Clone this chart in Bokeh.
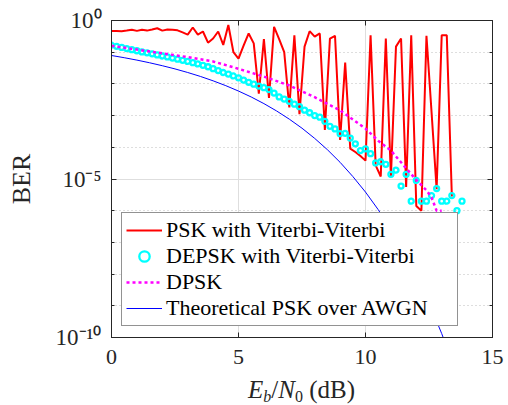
from bokeh.plotting import figure
from bokeh.layouts import column
from bokeh.models import (FixedTicker, LogAxis, LinearAxis, Legend, LegendItem,
                          CustomJSTickFormatter, Range1d, Div)
from bokeh.embed import file_html
from bokeh.resources import INLINE

# ---------------- data ----------------
STEP = 0.2  # dB spacing of the simulated points

psk_vv_ber = [0.47, 0.47, 0.46, 0.48, 0.51, 0.47, 0.51, 0.48, 0.52, 0.57,
              0.48, 0.52, 0.51, 0.49, 0.42, 0.36, 0.60, 0.36, 0.45, 0.20,
              0.27, 0.45, 0.17, 0.72, 0.10, 0.063, 0.16, 0.39, 0.19, 0.0049,
              0.26, 0.0036, 0.63, 0.26, 0.10, 0.0018, 0.34, 0.0011, 0.15, 0.46,
              0.31, 0.39, 3.5e-4, 0.27, 0.33, 1.7e-4, 0.047, 9.1e-5, 7.1e-5, 5.3e-5,
              3.8e-5, 0.34, 2.7e-5, 1.2e-5, 0.27, 1.15e-5, 0.15, 0.27, 5.6e-6, 0.34,
              1.4e-6, 1.0e-6, 0.33, 1.3e-3, 4.8e-6, 0.34, 0.34, 2.8e-6]
psk_vv_ebn0 = [round(STEP * i, 1) for i in range(len(psk_vv_ber))]

depsk_ber = [0.166, 0.153, 0.141, 0.130, 0.120, 0.111, 0.102, 0.0955, 0.0891, 0.0822,
             0.0759, 0.0708, 0.0653, 0.0603, 0.0556, 0.0513, 0.0468, 0.0427, 0.0385, 0.0347,
             0.0302, 0.0263, 0.0229, 0.0204, 0.0178, 0.0155, 0.0132, 0.0112, 0.00977, 0.00851,
             0.00759, 0.00661, 0.00513, 0.00389, 0.00331, 0.00282, 0.00229, 0.00191, 0.00148, 0.00123,
             0.00100, 8.9e-4, 6.6e-4, 4.6e-4, 3.8e-4, 2.7e-4, 2.75e-4, 1.95e-4, 1.29e-4, 7.9e-5,
             8.9e-5, 6.3e-5, 3.2e-5, 3.5e-5, 2.9e-5, 1.4e-5, 1.9e-5, 6e-6, 1.4e-5, 2e-6,
             9e-6, 2e-6, 2e-6, 3e-6, 5e-6, 2e-6, 2e-6, 3e-6, 1e-6, 2e-6]
depsk_ebn0 = [round(STEP * i, 1) for i in range(len(depsk_ber))]

dpsk_ebn0 = [0, 1, 2, 3, 4, 5, 6, 7, 8, 9, 10, 10.5, 11, 11.5, 12, 12.4, 12.6, 12.8, 13.0]
dpsk_ber = [0.159, 0.121, 0.092, 0.070, 0.051, 0.030, 0.017, 0.0089, 0.0038, 0.00146,
            3.9e-4, 1.6e-4, 7.9e-5, 2.7e-5, 9.3e-6, 4.4e-6, 2.6e-6, 1e-6, 1e-6]

theory_ebn0 = [0, 0.5, 1, 1.5, 2, 2.5, 3, 3.5, 4, 4.5, 5, 5.5, 6, 6.5,
               7, 7.5, 8, 8.5, 9, 9.5, 10, 10.5, 11, 11.5, 12, 12.5, 13, 13.5]
theory_ber = [0.0786, 0.0671, 0.0563, 0.0464, 0.0375, 0.0297, 0.0229, 0.0172, 0.0125, 0.0088,
              0.00595, 0.00387, 0.00239, 0.0014, 7.73e-4, 4.0e-4, 1.91e-4, 8.4e-5, 3.36e-5, 1.2e-5,
              3.87e-6, 1.08e-6, 2.61e-7, 5.3e-8, 9.0e-9, 1.24e-9, 1.33e-10, 1.15e-11]

series_labels = ["PSK with Viterbi-Viterbi", "DEPSK with Viterbi-Viterbi", "DPSK",
                 "Theoretical PSK over AWGN"]

x_ticks = [0, 5, 10, 15]
y_major_ticks = [1e-10, 1e-5, 1.0]
y_minor_ticks = [1e-9, 1e-8, 1e-7, 1e-6, 1e-4, 1e-3, 1e-2, 1e-1]
y_tick_labels = ["10\u207b\u00b9\u2070", "10\u207b\u2075", "10\u2070"]
y_label = "BER"
SUB = "font-size:16px;line-height:16px;position:relative;top:4px"
x_label_html = (f"<i>E</i><span style='{SUB}'><i>b</i></span>"
                f"/<i>N</i><span style='{SUB}'>0</span>"
                "&nbsp;(dB)")

# ---------------- styling ----------------
FONT = "Liberation Serif"
AX = "#262626"
W = 508
FIG_H = 375
LEFT, RIGHT, TOP, BOTTOM = 111, 16, 20, 38

p = figure(width=W, height=FIG_H, x_range=Range1d(0, 15), y_range=Range1d(1e-10, 1.0),
           y_axis_type="log", output_backend="svg", toolbar_location=None,
           min_border_left=LEFT, min_border_right=RIGHT, min_border_top=TOP,
           min_border_bottom=BOTTOM)
p.background_fill_color = "white"
p.border_fill_color = "white"
p.outline_line_color = AX
p.outline_line_width = 1

xt = FixedTicker(ticks=x_ticks, minor_ticks=[])
yt = FixedTicker(ticks=y_major_ticks, minor_ticks=y_minor_ticks)
empty = CustomJSTickFormatter(code="return ''")

xa = p.xaxis[0]
xa.ticker = xt
xa.major_tick_in = 5
xa.major_tick_out = 0
xa.minor_tick_in = 0
xa.minor_tick_out = 0
xa.axis_line_color = AX
xa.major_tick_line_color = AX
xa.major_label_text_font = FONT
xa.major_label_text_font_size = "22px"
xa.major_label_text_color = AX
xa.major_label_standoff = 12

ya = p.yaxis[0]
ya.ticker = yt
ya.major_label_overrides = {v: t for v, t in zip(y_major_ticks, y_tick_labels)}
ya.major_tick_in = 5
ya.major_tick_out = 0
ya.minor_tick_in = 3
ya.minor_tick_out = 0
ya.axis_line_color = AX
ya.major_tick_line_color = AX
ya.minor_tick_line_color = AX
ya.major_label_text_font = FONT
ya.major_label_text_font_size = "23px"
ya.major_label_text_color = AX
ya.major_label_standoff = 10
ya.axis_label = y_label
ya.axis_label_text_font = FONT
ya.axis_label_text_font_size = "26px"
ya.axis_label_text_font_style = "normal"
ya.axis_label_text_color = AX
ya.axis_label_standoff = 17

ra = LogAxis(ticker=yt, formatter=empty, major_tick_in=5, major_tick_out=0,
             minor_tick_in=3, minor_tick_out=0, axis_line_color=AX,
             major_tick_line_color=AX, minor_tick_line_color=AX,
             major_label_text_font_size="0px", major_label_standoff=0)
p.add_layout(ra, "right")
ta = LinearAxis(ticker=xt, formatter=empty, major_tick_in=5, major_tick_out=0,
                minor_tick_in=0, minor_tick_out=0, axis_line_color=AX,
                major_tick_line_color=AX, major_label_text_font_size="0px",
                major_label_standoff=0)
p.add_layout(ta, "above")

p.xgrid.ticker = xt
p.xgrid.grid_line_color = "#dedede"
p.xgrid.grid_line_width = 1
p.ygrid.ticker = yt
p.ygrid.grid_line_color = "#dedede"
p.ygrid.grid_line_width = 1
p.ygrid.minor_grid_line_color = "#bdbdbd"
p.ygrid.minor_grid_line_dash = "1 3"
p.ygrid.minor_grid_line_width = 1

# ---------------- series ----------------
r_psk = p.line(psk_vv_ebn0, psk_vv_ber, line_color="#ff0000", line_width=2)
r_depsk = p.scatter(depsk_ebn0, depsk_ber, marker="circle", size=5,
                    line_color="#00ffff", line_width=2.3, fill_alpha=0)
r_dpsk = p.line(dpsk_ebn0, dpsk_ber, line_color="#ff00ff", line_width=2.5, line_dash="3 3")
r_th = p.line(theory_ebn0, theory_ber, line_color="#0000ff", line_width=1)

legend = Legend(items=[LegendItem(label=series_labels[0], renderers=[r_psk]),
                       LegendItem(label=series_labels[1], renderers=[r_depsk]),
                       LegendItem(label=series_labels[2], renderers=[r_dpsk]),
                       LegendItem(label=series_labels[3], renderers=[r_th])],
                location=(10, 11), border_line_color=AX, border_line_width=1,
                background_fill_color="white", background_fill_alpha=1.0,
                label_text_font=FONT, label_text_font_size="22px", label_text_color="black",
                glyph_width=36, glyph_height=26, label_height=26, label_width=287,
                label_standoff=4, padding=4, spacing=0, margin=0)
p.add_layout(legend)

xlabel = Div(text=x_label_html, width=W - LEFT - RIGHT, height=30,
             margin=(0, RIGHT, 0, LEFT),
             styles={"font-family": FONT, "font-size": "25px", "color": AX,
                     "text-align": "center", "line-height": "25px",
                     "padding-top": "2px", "box-sizing": "border-box"})

layout = column(p, xlabel, spacing=0)
open("out.html", "w").write(file_html(layout, INLINE))
